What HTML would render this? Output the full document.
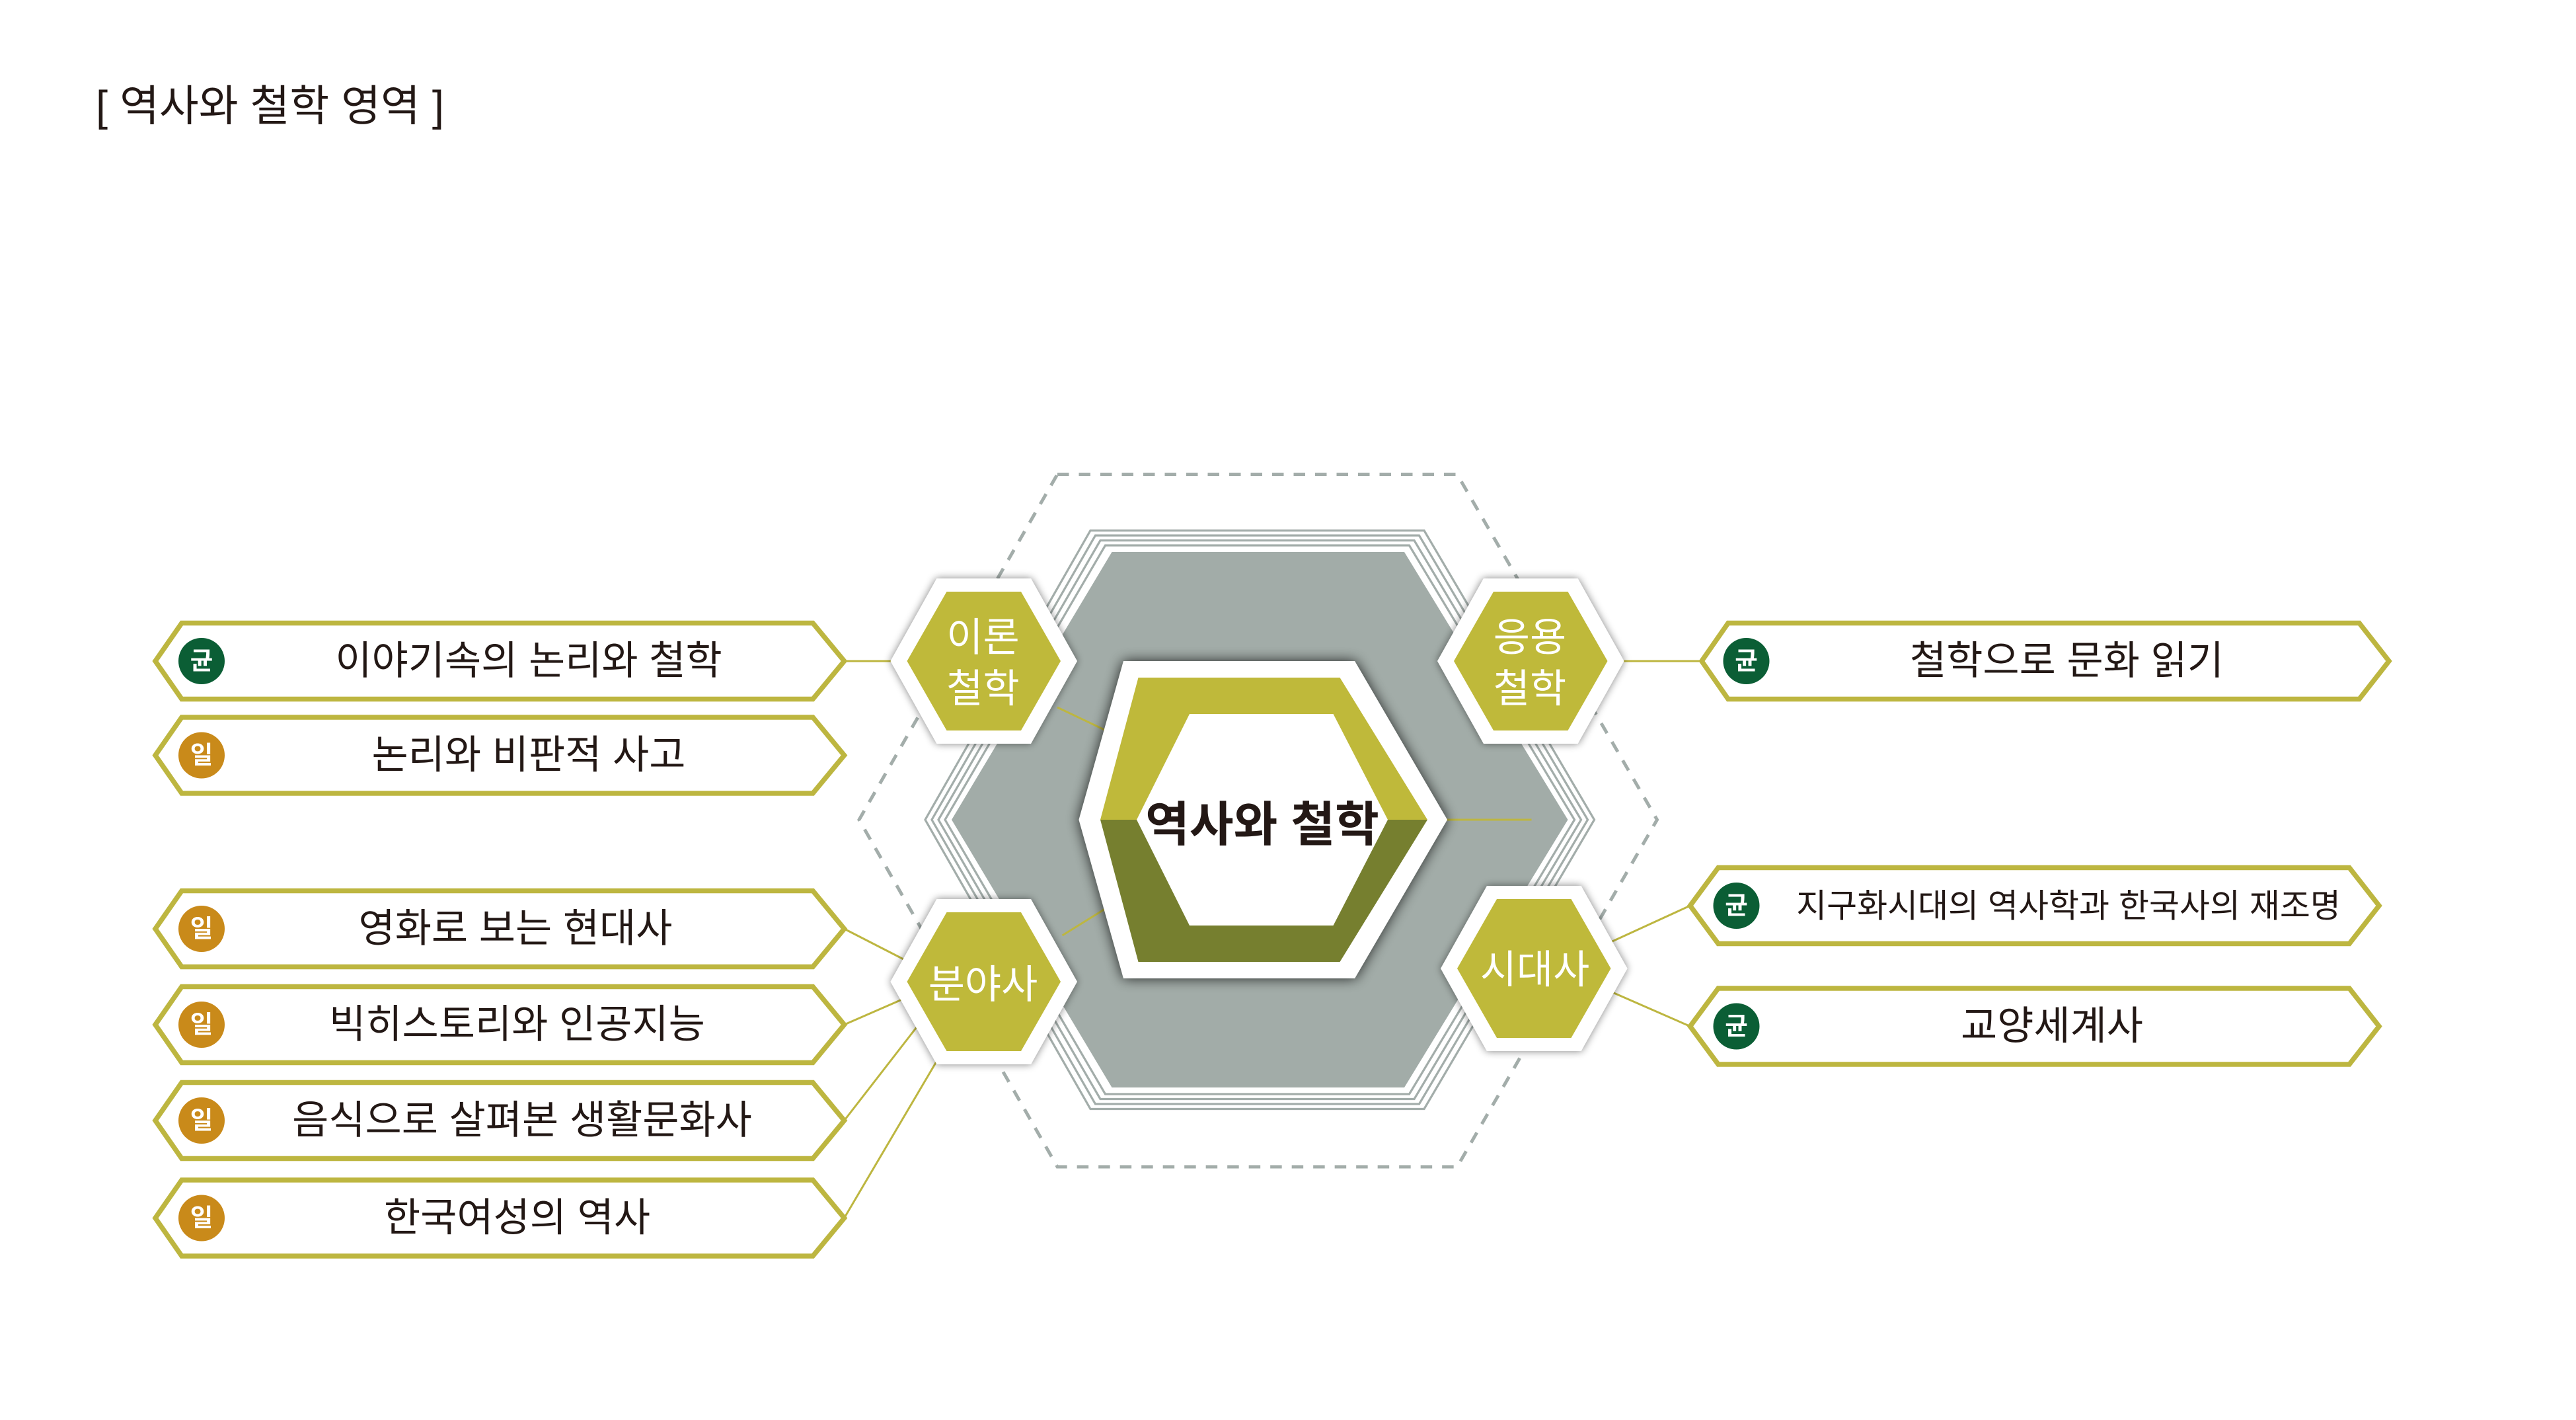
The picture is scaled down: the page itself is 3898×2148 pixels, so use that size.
<!DOCTYPE html>
<html><head><meta charset="utf-8"><style>
html,body{margin:0;padding:0;background:#fff;}
svg{display:block;}
text{font-family:"Liberation Sans","Noto Sans CJK KR",sans-serif;}
</style></head><body>
<svg width="3898" height="2148" viewBox="0 0 1559.2 859.2" xmlns="http://www.w3.org/2000/svg">
<defs>
<filter id="sh" x="-30%" y="-30%" width="160%" height="160%"><feGaussianBlur in="SourceAlpha" stdDeviation="4"/><feComponentTransfer><feFuncA type="linear" slope="0.8"/></feComponentTransfer><feMerge><feMergeNode/><feMergeNode in="SourceGraphic"/></feMerge></filter>
<filter id="sh2" x="-30%" y="-30%" width="160%" height="160%"><feGaussianBlur in="SourceAlpha" stdDeviation="2.5"/><feComponentTransfer><feFuncA type="linear" slope="0.5"/></feComponentTransfer><feMerge><feMergeNode/><feMergeNode in="SourceGraphic"/></feMerge></filter>
</defs>
<text x="58" y="73" font-size="26" fill="#231815">[ 역사와 철학 영역 ]</text>

<polygon points="640,287 882,287 1003,496 882,706 640,706 520,496" fill="none" stroke="#a3adaa" stroke-width="2" stroke-dasharray="7,6"/>

<g fill="none" stroke="#a3adaa" stroke-width="1.3">
<polygon points="660,321 862,321 965,496 862,671 660,671 560,496"/>
<polygon points="663,324 859,324 961,496 859,668 663,668 564,496"/>
<polygon points="666,327 856,327 957,496 856,665 666,665 568,496"/>
<polygon points="669,330 853,330 953,496 853,662 669,662 572,496"/>
</g>
<polygon points="673,334 850,334 949,496 850,658 673,658 576,496" fill="#a2aca8"/>

<g stroke="#bdb640" stroke-width="1.2" fill="none">
<line x1="511" y1="400" x2="545" y2="400"/>
<line x1="640" y1="428" x2="682" y2="448"/>
<line x1="643" y1="566" x2="672" y2="548"/>
<line x1="875" y1="496" x2="927" y2="496"/>
<line x1="978" y1="400" x2="1030" y2="400"/>
<line x1="511" y1="562" x2="550" y2="582"/>
<line x1="511" y1="620" x2="550" y2="603"/>
<line x1="511" y1="678" x2="556" y2="620"/>
<line x1="511" y1="737" x2="567" y2="642"/>
<line x1="975" y1="570" x2="1023" y2="548"/>
<line x1="975" y1="600" x2="1023" y2="621"/>
</g>

<polygon points="680,400 820,400 876,496 820,592 680,592 653,496" fill="#fff" filter="url(#sh)"/>
<polygon points="689,410 811,410 864,496 666,496" fill="#bfb93a"/>
<polygon points="666,496 864,496 811,582 689,582" fill="#767f2f"/>
<polygon points="720,432 807,432 840,496 807,560 720,560 688,496" fill="#fff"/>
<text x="764" y="509" font-size="29" font-weight="bold" fill="#231815" text-anchor="middle">역사와 철학</text>

<g>
<polygon points="567,350 624,350 652,400 624,450 567,450 539,400" fill="#fff" filter="url(#sh2)"/>
<polygon points="573,358 618,358 642,400 618,442 573,442 549,400" fill="#bfb93a"/>
<text x="595" y="394" font-size="24" fill="#fff" text-anchor="middle">이론</text>
<text x="595" y="425" font-size="24" fill="#fff" text-anchor="middle">철학</text>

<polygon points="898,350 955,350 983,400 955,450 898,450 870,400" fill="#fff" filter="url(#sh2)"/>
<polygon points="904,358 949,358 973,400 949,442 904,442 880,400" fill="#bfb93a"/>
<text x="926" y="394" font-size="24" fill="#fff" text-anchor="middle">응용</text>
<text x="926" y="425" font-size="24" fill="#fff" text-anchor="middle">철학</text>

<polygon points="567,544 624,544 652,594 624,644 567,644 539,594" fill="#fff" filter="url(#sh2)"/>
<polygon points="573,552 618,552 642,594 618,636 573,636 549,594" fill="#bfb93a"/>
<text x="595" y="604" font-size="24" fill="#fff" text-anchor="middle">분야사</text>

<polygon points="900,536 957,536 985,586 957,636 900,636 872,586" fill="#fff" filter="url(#sh2)"/>
<polygon points="906,544 951,544 975,586 951,628 906,628 882,586" fill="#bfb93a"/>
<text x="929" y="595" font-size="24" fill="#fff" text-anchor="middle">시대사</text>
</g>

<g stroke="#bdb640" stroke-width="3" fill="#fff">
<polygon points="94,400 110,377 492,377 511,400 492,423 110,423"/>
<polygon points="94,457 110,434 492,434 511,457 492,480 110,480"/>
<polygon points="94,562 110,539 492,539 511,562 492,585 110,585"/>
<polygon points="94,620 110,597 492,597 511,620 492,643 110,643"/>
<polygon points="94,678 110,655 492,655 511,678 492,701 110,701"/>
<polygon points="94,737 110,714 492,714 511,737 492,760 110,760"/>
<polygon points="1030,400 1046,377 1428,377 1446,400 1428,423 1046,423"/>
<polygon points="1023,548 1040,525 1422,525 1440,548 1422,571 1040,571"/>
<polygon points="1023,621 1040,598 1422,598 1440,621 1422,644 1040,644"/>
</g>
<g>
<ellipse cx="122" cy="400" rx="14" ry="14" fill="#0b5e35"/>
<ellipse cx="122" cy="457" rx="14" ry="14" fill="#c98a1a"/>
<ellipse cx="122" cy="562" rx="14" ry="14" fill="#c98a1a"/>
<ellipse cx="122" cy="620" rx="14" ry="14" fill="#c98a1a"/>
<ellipse cx="122" cy="678" rx="14" ry="14" fill="#c98a1a"/>
<ellipse cx="122" cy="737" rx="14" ry="14" fill="#c98a1a"/>
<ellipse cx="1057" cy="400" rx="14" ry="14" fill="#0b5e35"/>
<ellipse cx="1051" cy="548" rx="14" ry="14" fill="#0b5e35"/>
<ellipse cx="1051" cy="621" rx="14" ry="14" fill="#0b5e35"/>
</g>
<g font-size="15" font-weight="bold" fill="#fff" text-anchor="middle">
<text x="122" y="405">균</text><text x="122" y="462">일</text><text x="122" y="567">일</text>
<text x="122" y="625">일</text><text x="122" y="683">일</text><text x="122" y="742">일</text>
<text x="1057" y="405">균</text><text x="1051" y="553">균</text><text x="1051" y="626">균</text>
</g>
<g font-size="24" fill="#231815" text-anchor="middle">
<text x="320" y="408">이야기속의 논리와 철학</text>
<text x="320" y="465">논리와 비판적 사고</text>
<text x="312" y="570">영화로 보는 현대사</text>
<text x="313" y="628">빅히스토리와 인공지능</text>
<text x="316" y="686">음식으로 살펴본 생활문화사</text>
<text x="313" y="745">한국여성의 역사</text>
<text x="1251" y="408">철학으로 문화 읽기</text>
<text x="1252" y="555" font-size="20">지구화시대의 역사학과 한국사의 재조명</text>
<text x="1242" y="629">교양세계사</text>
</g>
</svg>
</body></html>
